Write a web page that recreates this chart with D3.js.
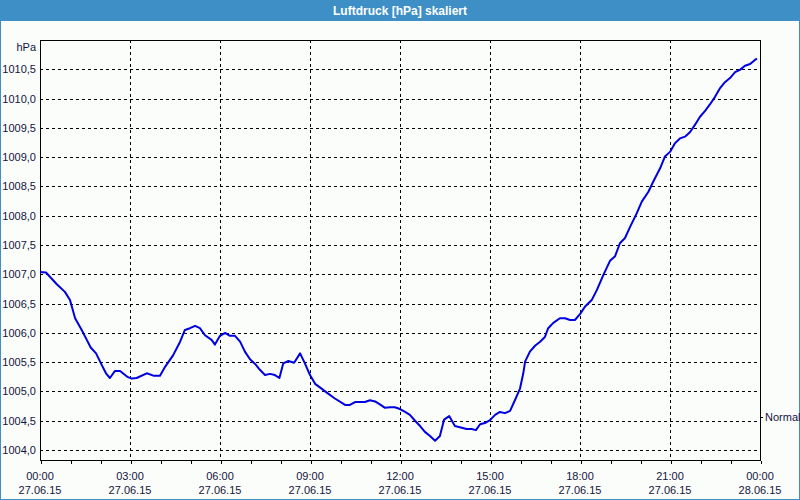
<!DOCTYPE html>
<html>
<head>
<meta charset="utf-8">
<script src="https://cdn.jsdelivr.net/npm/d3@7"></script>
<style>
body{margin:0;background:#fff;}
svg{display:block;font-family:"Liberation Sans",Arial,sans-serif;}
.lbl{font-size:11px;fill:#14143c;}
.grid line{stroke:#000;stroke-dasharray:3,3;shape-rendering:crispEdges;}
</style>
</head>
<body>
<script>
'use strict';

// Stunden seit 27.06.15 00:00
var hours=[0,0.2,0.56,0.83,1.0,1.17,1.39,1.56,1.69,1.87,2.06,2.2,2.33,2.5,2.67,2.91,3.06,3.22,3.56,3.78,4.0,4.17,4.44,4.67,4.83,5.0,5.17,5.33,5.5,5.72,5.83,6.0,
    6.17,6.33,6.5,6.67,6.83,7.0,7.17,7.33,7.5,7.67,7.83,7.98,8.11,8.28,8.47,8.67,8.83,9.0,9.17,9.33,9.56,9.83,10.17,10.33,10.5,10.83,11.0,11.17,11.33,11.5,11.67,11.83,12.0,
    12.17,12.33,12.5,12.67,12.83,13.0,13.17,13.33,13.47,13.64,13.83,14.06,14.22,14.39,14.53,14.67,14.83,15.0,15.17,15.33,15.5,15.67,15.83,16.0,16.11,16.17,16.33,16.5,16.67,16.83,16.94,17.11,17.33,17.5,17.67,17.83,18.0,
    18.17,18.39,18.56,18.78,19.0,19.17,19.33,19.5,19.67,19.89,20.06,20.28,20.44,20.67,20.83,21.0,21.17,21.33,21.5,21.67,21.83,22.0,22.17,22.33,22.5,22.67,22.83,23.0,23.17,23.33,23.5,23.67,23.83,23.9]

var pressure=[1007.04,1007.03,1006.83,1006.70,1006.56,1006.25,1006.05,1005.88,1005.75,1005.65,1005.45,1005.31,1005.23,1005.35,1005.35,1005.25,1005.22,1005.23,1005.31,1005.27,1005.27,1005.42,1005.62,1005.85,1006.05,1006.08,1006.12,1006.08,1005.96,1005.88,1005.80,1005.95,
    1006.00,1005.95,1005.95,1005.85,1005.68,1005.55,1005.47,1005.37,1005.28,1005.30,1005.28,1005.23,1005.48,1005.52,1005.49,1005.65,1005.48,1005.28,1005.13,1005.07,1004.98,1004.88,1004.77,1004.77,1004.82,1004.82,1004.85,1004.83,1004.78,1004.72,1004.73,1004.73,1004.70,
    1004.65,1004.60,1004.50,1004.41,1004.31,1004.24,1004.16,1004.24,1004.52,1004.58,1004.41,1004.38,1004.36,1004.36,1004.34,1004.44,1004.46,1004.51,1004.60,1004.65,1004.63,1004.67,1004.85,1005.05,1005.31,1005.51,1005.68,1005.78,1005.85,1005.93,1006.08,1006.17,1006.25,1006.25,1006.22,1006.22,1006.32,
    1006.45,1006.56,1006.73,1006.99,1007.23,1007.31,1007.53,1007.62,1007.81,1008.04,1008.24,1008.41,1008.58,1008.81,1009.01,1009.09,1009.24,1009.32,1009.35,1009.43,1009.55,1009.69,1009.79,1009.90,1010.03,1010.18,1010.28,1010.35,1010.45,1010.49,1010.56,1010.59,1010.66,1010.68]

var yTicks=[1004,1004.5,1005,1005.5,1006,1006.5,1007,1007.5,1008,1008.5,1009,1009.5,1010,1010.5]
var xTickHours=[0,3,6,9,12,15,18,21,24]
var normalValue=1004.56
var title='Luftdruck [hPa] skaliert'

var W=800, H=500
  , m={top:40,right:40,bottom:40,left:40}
  , t0=new Date(2015,5,27,0,0)
  , toDate=function(h){return new Date(t0.getTime()+h*3600000);}

var x=d3.scaleTime()
    .domain([t0,toDate(24)])
    .range([m.left,W-m.right]);

var y=d3.scaleLinear()
    .domain([1003.83,1011.0])
    .range([H-m.bottom,m.top]);

var svg=d3.select('body').append('svg')
    .attr('width',W)
    .attr('height',H);

// Hintergrund + Rahmen
svg.append('rect')
    .attr('x',0).attr('y',0)
    .attr('width',W).attr('height',H)
    .attr('fill','#3d8fc6');
svg.append('rect')
    .attr('x',1).attr('y',21)
    .attr('width',W-2).attr('height',H-22)
    .attr('fill','#fbfdfb');

svg.append('text')
    .attr('x',W/2)
    .attr('y',15)
    .attr('text-anchor','middle')
    .attr('fill','#fff')
    .style('font-size','12px')
    .style('font-weight','bold')
    .text(title);

// Gitter
var grid=svg.append('g').attr('class','grid');
grid.selectAll('line.h')
    .data(yTicks)
    .enter().append('line')
    .attr('class','h')
    .attr('x1',m.left).attr('x2',W-m.right)
    .attr('y1',function(d){return Math.round(y(d))+0.5;})
    .attr('y2',function(d){return Math.round(y(d))+0.5;});
grid.selectAll('line.v')
    .data(xTickHours.slice(1,-1))
    .enter().append('line')
    .attr('class','v')
    .attr('y1',m.top).attr('y2',H-m.bottom)
    .attr('x1',function(d){return Math.round(x(toDate(d)))+0.5;})
    .attr('x2',function(d){return Math.round(x(toDate(d)))+0.5;});

// Rahmen Plotbereich
svg.append('rect')
    .attr('x',m.left+0.5).attr('y',m.top+0.5)
    .attr('width',W-m.left-m.right).attr('height',H-m.top-m.bottom)
    .attr('fill','none')
    .attr('stroke','#000')
    .attr('shape-rendering','crispEdges');

// x-Achse: Stundenticks
var xAxis=d3.axisBottom(x)
    .ticks(d3.timeHour.every(1))
    .tickSize(3)
    .tickFormat('');
var gx=svg.append('g')
    .attr('transform','translate(0.5,'+(H-m.bottom+0.5)+')')
    .call(xAxis);
gx.select('.domain').remove();
gx.selectAll('line').attr('stroke','#000').attr('shape-rendering','crispEdges');

var fTime=d3.timeFormat('%H:%M')
  , fDate=d3.timeFormat('%d.%m.%y')

var xl=svg.append('g').selectAll('g')
    .data(xTickHours)
    .enter().append('g')
    .attr('transform',function(d){return 'translate('+x(toDate(d))+',0)';});
xl.append('text')
    .attr('class','lbl')
    .attr('y',480)
    .attr('text-anchor','middle')
    .text(function(d){return fTime(toDate(d));});
xl.append('text')
    .attr('class','lbl')
    .attr('y',494)
    .attr('text-anchor','middle')
    .text(function(d){return fDate(toDate(d));});

// y-Achse
var yAxis=d3.axisLeft(y)
    .tickValues(yTicks)
    .tickSize(0)
    .tickPadding(4)
    .tickFormat(function(d){return d3.format('.1f')(d).replace('.',',');});
var gy=svg.append('g')
    .attr('transform','translate('+m.left+',0)')
    .call(yAxis);
gy.select('.domain').remove();
gy.selectAll('text')
    .attr('class','lbl')
    .style('font-family','inherit')
    .style('font-size','11px');

svg.append('text')
    .attr('class','lbl')
    .attr('x',m.left-4)
    .attr('y',51)
    .attr('text-anchor','end')
    .text('hPa');

// Normal-Markierung rechts
svg.append('line')
    .attr('x1',W-m.right).attr('x2',W-m.right+3)
    .attr('y1',Math.round(y(normalValue))+0.5)
    .attr('y2',Math.round(y(normalValue))+0.5)
    .attr('stroke','#000');
svg.append('text')
    .attr('class','lbl')
    .attr('x',W-m.right+5)
    .attr('y',y(normalValue)+4)
    .text('Normal');

// Kurve
var line=d3.line()
    .x(function(d){return x(toDate(d[0]));})
    .y(function(d){return y(d[1]);});

svg.append('path')
    .datum(d3.zip(hours,pressure))
    .attr('fill','none')
    .attr('stroke','#0000e0')
    .attr('stroke-width',2)
    .attr('stroke-linejoin','round')
    .attr('d',line);
</script>
</body>
</html>
